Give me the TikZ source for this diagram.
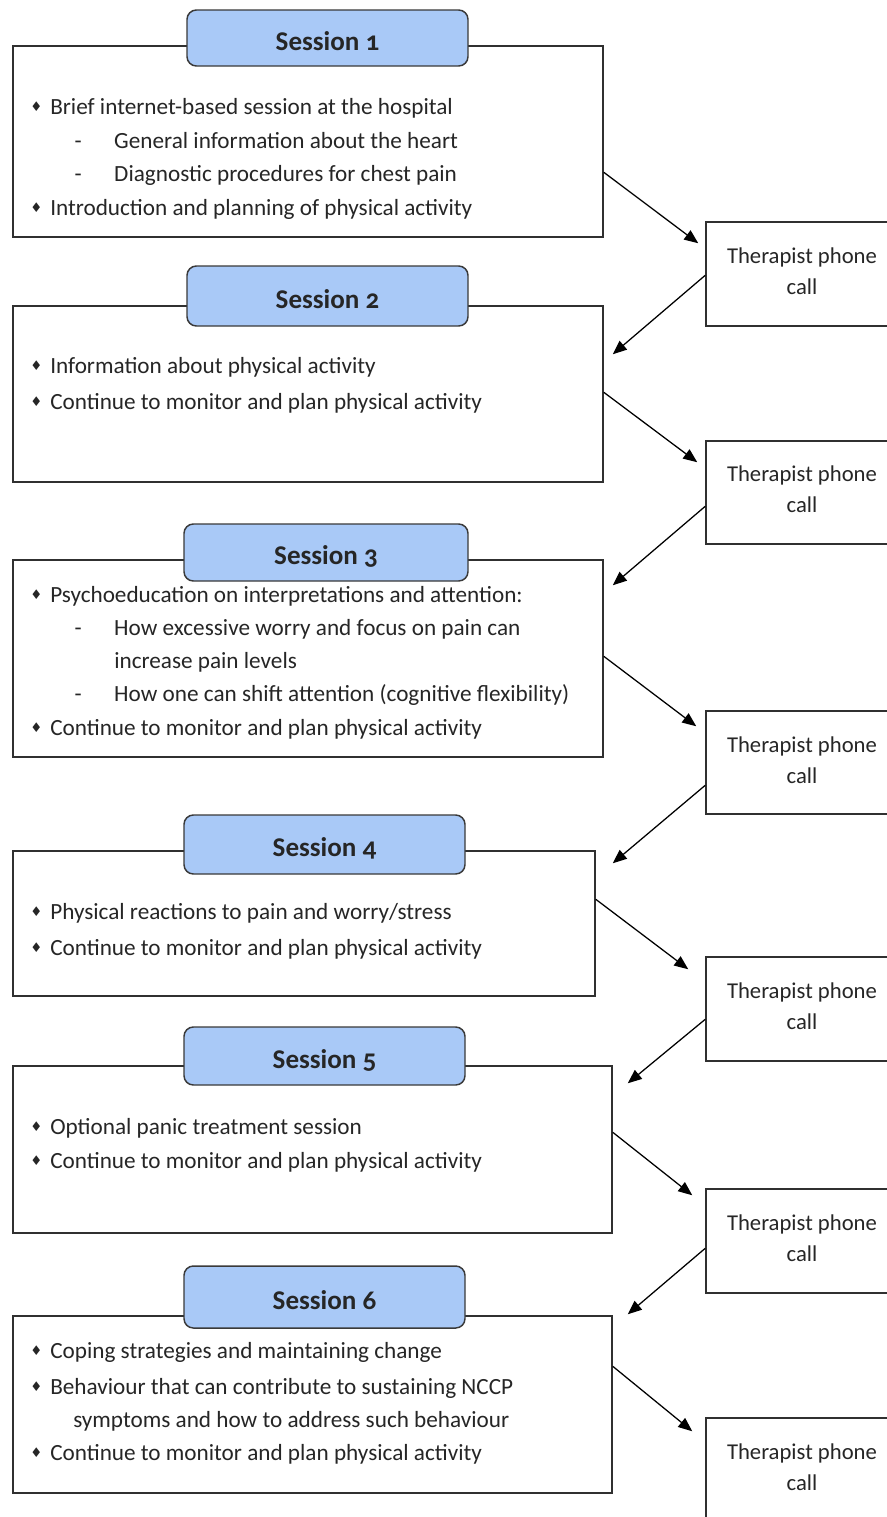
\documentclass[tikz,border=0pt]{standalone}
\usepackage{fontspec}
\setmainfont{Carlito}
\newfontfamily\dejavu{DejaVu Sans}
\usetikzlibrary{calc,arrows.meta,fit}
\definecolor{hdrfill}{HTML}{A9C9F7}
\definecolor{hdrline}{HTML}{3A3A3A}
\definecolor{txt}{HTML}{262626}
\definecolor{boxline}{HTML}{303030}
\newcommand\bul{\makebox[15pt][l]{\raisebox{0.1em}{\dejavu\fontsize{10}{10}\selectfont ♦}}}
\newcommand\subdash{\makebox[30.75pt][l]{\hspace{1pt}-}}
\tikzset{
  sbox/.style={draw=boxline, line width=1.1pt, inner sep=0pt},
  hdr/.style={draw=hdrline, fill=hdrfill, line width=1.1pt, rounded corners=7pt, inner sep=0pt},
  hdrtext/.style={anchor=base, inner sep=0pt, text=txt,
    font=\fontsize{20.3}{24}\selectfont\bfseries\addfontfeatures{Numbers=OldStyle}},
  phone/.style={draw=boxline, line width=1.1pt, inner sep=0pt},
  phonetext/.style={anchor=north, inner sep=0pt, text=txt, align=center,
    font=\fontsize{17}{23.25}\selectfont},
  ln/.style={anchor=base west, inner sep=0pt, text=txt, font=\fontsize{17.4}{20}\selectfont},
  arr/.style={draw=black, line width=0.95pt, -{Triangle[length=10.5pt,width=8.5pt]}},
}
\begin{document}
\begin{tikzpicture}[x=0.75pt,y=-0.75pt]
\clip (0,0) rectangle (887,1517);
\fill[white] (0,0) rectangle (887,1517);
% ---------- coordinates
\coordinate (s1a) at (13,46);   \coordinate (s1b) at (603,237);
\coordinate (s2a) at (13,306);  \coordinate (s2b) at (603,482);
\coordinate (s3a) at (13,560);  \coordinate (s3b) at (603,757);
\coordinate (s4a) at (13,851);  \coordinate (s4b) at (595,996);
\coordinate (s5a) at (13,1066); \coordinate (s5b) at (612,1233);
\coordinate (s6a) at (13,1316); \coordinate (s6b) at (612,1493);
\coordinate (h1a) at (187,10);  \coordinate (h1b) at (468,66);
\coordinate (h2a) at (187,266); \coordinate (h2b) at (468,326);
\coordinate (h3a) at (184,524); \coordinate (h3b) at (468,581);
\coordinate (h4a) at (184,815); \coordinate (h4b) at (465,874);
\coordinate (h5a) at (184,1027);\coordinate (h5b) at (465,1085);
\coordinate (h6a) at (184,1266);\coordinate (h6b) at (465,1328);
\coordinate (p1a) at (706,222); \coordinate (p1b) at (900,326);
\coordinate (p2a) at (706,441); \coordinate (p2b) at (900,544);
\coordinate (p3a) at (706,711); \coordinate (p3b) at (900,814);
\coordinate (p4a) at (706,957); \coordinate (p4b) at (900,1061);
\coordinate (p5a) at (706,1189);\coordinate (p5b) at (900,1293);
\coordinate (p6a) at (706,1418);\coordinate (p6b) at (900,1560);
% ---------- session boxes
\node[sbox, fit=(s1a)(s1b)] (s1) {};
\node[sbox, fit=(s2a)(s2b)] (s2) {};
\node[sbox, fit=(s3a)(s3b)] (s3) {};
\node[sbox, fit=(s4a)(s4b)] (s4) {};
\node[sbox, fit=(s5a)(s5b)] (s5) {};
\node[sbox, fit=(s6a)(s6b)] (s6) {};
% ---------- headers
\node[hdr, fit=(h1a)(h1b)] (h1) {};
\node[hdr, fit=(h2a)(h2b)] (h2) {};
\node[hdr, fit=(h3a)(h3b)] (h3) {};
\node[hdr, fit=(h4a)(h4b)] (h4) {};
\node[hdr, fit=(h5a)(h5b)] (h5) {};
\node[hdr, fit=(h6a)(h6b)] (h6) {};
\node[hdrtext] (ht1) at ($(h1.center)+(0,12)$) {Session 1};
\node[hdrtext] (ht2) at ($(h2.center)+(0,12)$) {Session 2};
\node[hdrtext] (ht3) at ($(h3.center)+(0,12)$) {Session 3};
\node[hdrtext] (ht4) at ($(h4.center)+(0,12)$) {Session 4};
\node[hdrtext] (ht5) at ($(h5.center)+(0,12)$) {Session 5};
\node[hdrtext] (ht6) at ($(h6.center)+(0,12)$) {Session 6};
% ---------- phone boxes
\node[phone, fit=(p1a)(p1b)] (p1) {};
\node[phone, fit=(p2a)(p2b)] (p2) {};
\node[phone, fit=(p3a)(p3b)] (p3) {};
\node[phone, fit=(p4a)(p4b)] (p4) {};
\node[phone, fit=(p5a)(p5b)] (p5) {};
\node[phone, fit=(p6a)(p6b)] (p6) {};
\node[phonetext] (t1) at (802,247) {Therapist phone\\call};
\node[phonetext] (t2) at (802,465) {Therapist phone\\call};
\node[phonetext] (t3) at (802,736) {Therapist phone\\call};
\node[phonetext] (t4) at (802,982) {Therapist phone\\call};
\node[phonetext] (t5) at (802,1214) {Therapist phone\\call};
\node[phonetext] (t6) at (802,1443) {Therapist phone\\call};
% ---------- text lines
\node[ln] (l11) at (30,114) {\bul Brief internet-based session at the hospital};
\node[ln] (l12) at (73,148) {\subdash General information about the heart};
\node[ln] (l13) at (73,181) {\subdash Diagnostic procedures for chest pain};
\node[ln] (l14) at (30,215) {\bul Introduction and planning of physical activity};
\node[ln] (l21) at (30,373) {\bul Information about physical activity};
\node[ln] (l22) at (30,409) {\bul Continue to monitor and plan physical activity};
\node[ln] (l31) at (30,602) {\bul Psychoeducation on interpretations and attention:};
\node[ln] (l32) at (73,635) {\subdash How excessive worry and focus on pain can};
\node[ln] (l33) at (114,668) {increase pain levels};
\node[ln] (l34) at (73,701) {\subdash How one can shift attention (cognitive flexibility)};
\node[ln] (l35) at (30,735) {\bul Continue to monitor and plan physical activity};
\node[ln] (l41) at (30,919) {\bul Physical reactions to pain and worry/stress};
\node[ln] (l42) at (30,955) {\bul Continue to monitor and plan physical activity};
\node[ln] (l51) at (30,1134) {\bul Optional panic treatment session};
\node[ln] (l52) at (30,1168) {\bul Continue to monitor and plan physical activity};
\node[ln] (l61) at (30,1358) {\bul Coping strategies and maintaining change};
\node[ln] (l62) at (30,1394) {\bul Behaviour that can contribute to sustaining NCCP};
\node[ln] (l63) at (73,1427) {symptoms and how to address such behaviour};
\node[ln] (l64) at (30,1460) {\bul Continue to monitor and plan physical activity};
% ---------- arrows
\draw[arr] ($(s1.north east)+(0,127)$) -- ($(p1.north west)+(-7,22)$);
\draw[arr] ($(p1.north west)+(0,54)$) -- ($(s2.north east)+(9,49)$);
\draw[arr] ($(s2.north east)+(0,87)$) -- ($(p2.north west)+(-8,22)$);
\draw[arr] ($(p2.north west)+(0,66)$) -- ($(s3.north east)+(9,26)$);
\draw[arr] ($(s3.north east)+(0,97)$) -- ($(p3.north west)+(-9,16)$);
\draw[arr] ($(p3.north west)+(0,75)$) -- ($(s4.north east)+(17,13)$);
\draw[arr] ($(s4.north east)+(0,49)$) -- ($(p4.north west)+(-17,13)$);
\draw[arr] ($(p4.north west)+(0,63)$) -- ($(s5.north east)+(15,18)$);
\draw[arr] ($(s5.north east)+(0,67)$) -- ($(p5.north west)+(-13,7)$);
\draw[arr] ($(p5.north west)+(0,60)$) -- ($(s6.north east)+(15,-1)$);
\draw[arr] ($(s6.north east)+(0,51)$) -- ($(p6.north west)+(-13,14)$);
\end{tikzpicture}
\end{document}
